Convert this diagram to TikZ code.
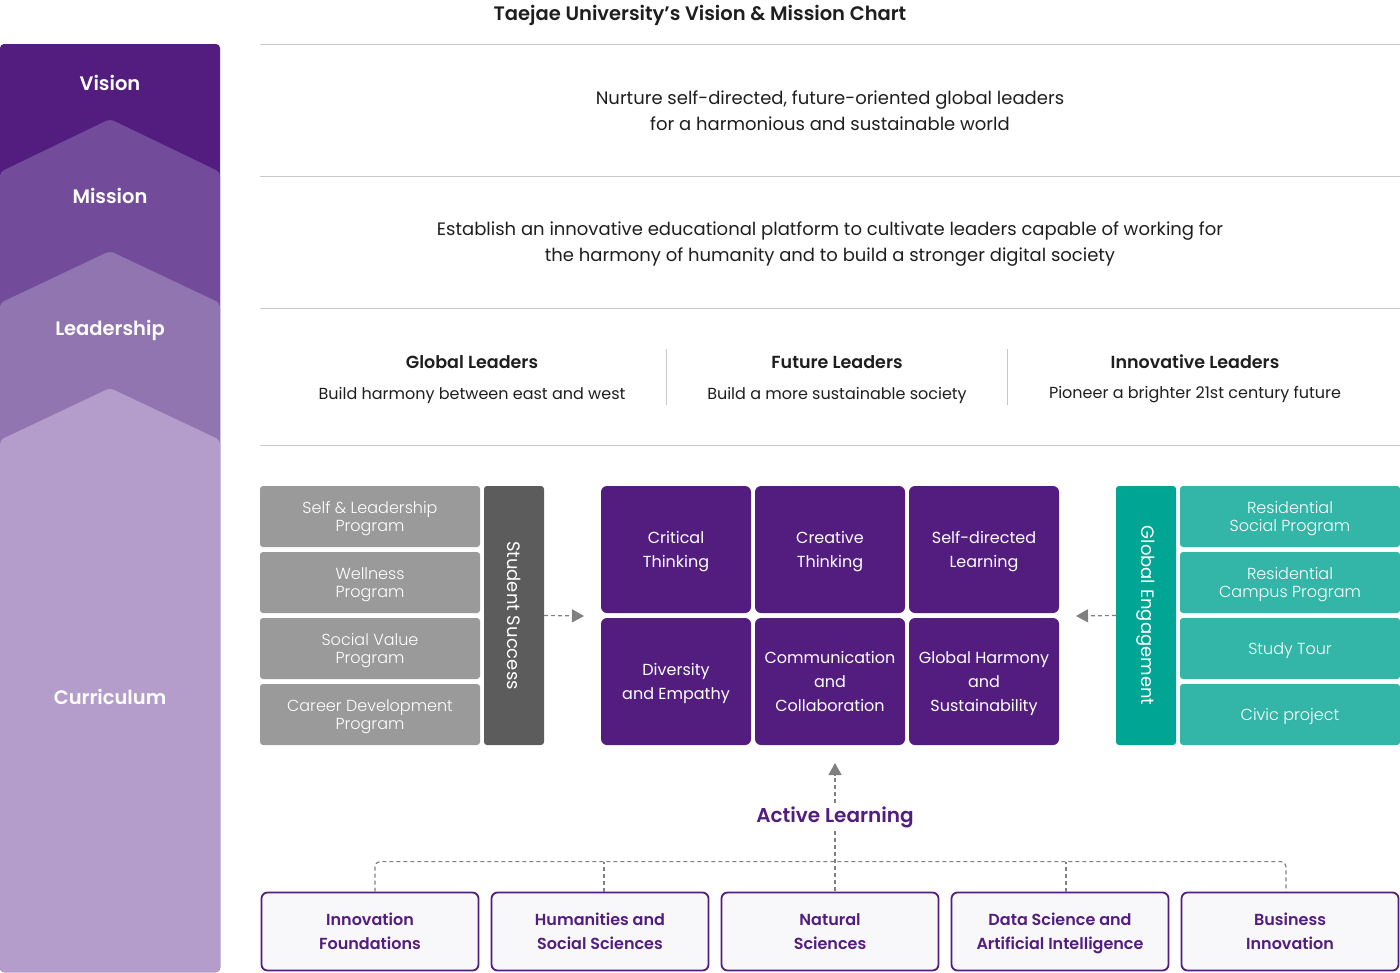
\documentclass[tikz,border=0pt]{standalone}
\usepackage{fontspec}
\setmainfont{Poppins}[BoldFont={Poppins SemiBold}]
\newfontfamily\lightfont{Poppins Light}
\usetikzlibrary{positioning,arrows.meta}

\begin{document}
\begin{tikzpicture}[x=1pt,y=-1pt,line join=round,
  hline/.style={draw=rulegray,line width=1pt},
  bandlabel/.style={text=white,font=\bfseries\fontsize{19.5}{22}\selectfont},
  bodytext/.style={text=inkblack,align=center,font=\fontsize{18}{26}\selectfont},
  headtext/.style={text=inkblack,font=\bfseries\fontsize{17.5}{22}\selectfont},
  subtext/.style={text=inkblack,font=\fontsize{16}{20}\selectfont},
  graybox/.style={fill=boxgray,text=white,rounded corners=3pt,minimum width=220,minimum height=61,
    align=center,font=\lightfont\fontsize{16}{18}\selectfont,inner sep=0pt,text depth=-2pt},
  tealbox/.style={graybox,fill=boxteal},
  sidebar/.style={rotate=-90,rounded corners=3pt,minimum width=259,minimum height=60,
    text=white,font=\fontsize{18}{20}\selectfont,inner sep=0pt},
  skillbox/.style={fill=vispurple,text=white,rounded corners=6pt,minimum width=150,minimum height=127,
    align=center,font=\fontsize{16}{24}\selectfont,inner sep=0pt,text depth=-5pt},
  fieldbox/.style={draw=vispurple,line width=1.8pt,fill=fieldfill,rounded corners=6pt,
    minimum width=217,minimum height=78,text=vispurple,align=center,
    font=\bfseries\fontsize{16}{24}\selectfont,inner sep=0pt,text depth=-1pt},
  dashline/.style={draw=arrowgray,line width=1.2pt,dash pattern=on 4pt off 3pt},
  dasharrow/.style={dashline,-{Triangle[length=12pt,width=13pt]},arrowgray}]
\definecolor{vispurple}{HTML}{521D7F}
\definecolor{mispurple}{HTML}{734B9B}
\definecolor{leadpurple}{HTML}{9075B1}
\definecolor{curpurple}{HTML}{B49DCA}
\definecolor{rulegray}{HTML}{C8C8C8}
\definecolor{inkblack}{HTML}{1E1E1E}
\definecolor{boxgray}{HTML}{9A9A9A}
\definecolor{sidegray}{HTML}{5C5C5C}
\definecolor{sideteal}{HTML}{00A594}
\definecolor{boxteal}{HTML}{33B5A7}
\definecolor{arrowgray}{HTML}{808080}
\definecolor{fieldfill}{HTML}{F8F8FA}

\useasboundingbox (0,0) rectangle (1400,972);

% title
\node[font=\bfseries\fontsize{19.5}{22}\selectfont,text=inkblack] (title) at (700,15)
  {Taejae University’s Vision \& Mission Chart};

% left column, each band overlaps the one above
\path[fill=vispurple,rounded corners=4pt] (0,44) rectangle (220,972);
\path[fill=mispurple,rounded corners=4pt]
  (0,172) -- (110,119) -- (220,172) -- (220,972) -- (0,972) -- cycle;
\path[fill=leadpurple,rounded corners=4pt]
  (0,303) -- (110,251) -- (220,303) -- (220,972) -- (0,972) -- cycle;
\path[fill=curpurple,rounded corners=4pt]
  (0,440) -- (110,388) -- (220,440) -- (220,972) -- (0,972) -- cycle;

\node[bandlabel] (vis) at (110,83) {Vision};
\node[bandlabel] (mis) at (110,196) {Mission};
\node[bandlabel] (lead) at (110,330) {Leadership};
\node[bandlabel] (cur) at (110,697) {Curriculum};

% rules between the rows
\foreach \y in {44,176,308,445}
  \draw[hline] (260,\y) -- (1400,\y);

\node[bodytext] (vistext) at (830,111)
  {Nurture self-directed, future-oriented global leaders\\for a harmonious and sustainable world};
\node[bodytext] (mistext) at (830,244)
  {Establish an innovative educational platform to cultivate leaders capable of working for\\
   the harmony of humanity and to build a stronger digital society};

% leadership columns
\node[headtext] (glob) at (472,362) {Global Leaders};
\node[subtext] (globsub) at (472,395) {Build harmony between east and west};
\node[headtext] (fut) at (837,362) {Future Leaders};
\node[subtext] (futsub) at (837,395) {Build a more sustainable society};
\node[headtext] (inno) at (1195,362) {Innovative Leaders};
\node[subtext] (innosub) at (1195,395) {Pioneer a brighter 21st century future};
\draw[hline] (666,349) -- (666,405);
\draw[hline] (1007,349) -- (1007,405);

% student success
\foreach \t [count=\i] in {{Self \& Leadership\\Program},{Wellness\\Program},
    {Social Value\\Program},{Career Development\\Program}}
  \node[graybox] (prog\i) at (370,516.5+66*\i-66) {\t};
\node[sidebar,fill=sidegray] (ss) at (514,615.5) {Student Success};

% global engagement
\foreach \t [count=\i] in {{Residential\\Social Program},{Residential\\Campus Program},
    {Study Tour},{Civic project}}
  \node[tealbox] (ge\i) at (1290,516.5+66*\i-66) {\t};
\node[sidebar,fill=sideteal] (ge) at (1146,615.5) {Global Engagement};

% competencies
\node[skillbox] (crit) at (676,549.5) {Critical\\Thinking};
\node[skillbox] (crea) at (830,549.5) {Creative\\Thinking};
\node[skillbox] (self) at (984,549.5) {Self-directed\\Learning};
\node[skillbox] (div) at (676,681.5) {Diversity\\and Empathy};
\node[skillbox] (comm) at (830,681.5) {Communication\\and\\Collaboration};
\node[skillbox] (glh) at (984,681.5) {Global Harmony\\and\\Sustainability};

\coordinate (leftin) at (584,616);
\coordinate (rightin) at (1076,616);
\coordinate (bottomin) at (835,763);
\draw[dasharrow] (ss.north) -- (leftin);
\draw[dasharrow] (ge.south) -- (rightin);

% active learning
\node[font=\bfseries\fontsize{20}{22}\selectfont,text=vispurple] (al) at (835,817) {Active Learning};
\draw[dasharrow] (al.north) -- (bottomin);

% fields
\node[fieldbox] (f1) at (370,931.5) {Innovation\\Foundations};
\node[fieldbox] (f2) at (600,931.5) {Humanities and\\Social Sciences};
\node[fieldbox] (f3) at (830,931.5) {Natural\\Sciences};
\node[fieldbox] (f4) at (1060,931.5) {Data Science and\\Artificial Intelligence};
\node[fieldbox] (f5) at (1290,931.5) {Business\\Innovation};

\draw[dashline,rounded corners=5pt]
  ([xshift=5pt]f1.north) -- ++(0,-30) -| ([xshift=-4pt]f5.north);
\draw[dashline] ([xshift=4pt]f2.north) -- ++(0,-30);
\draw[dashline] ([xshift=6pt]f4.north) -- ++(0,-30);
\draw[dashline] (al.south) -- ([xshift=5pt]f3.north);

\end{tikzpicture}
\end{document}
